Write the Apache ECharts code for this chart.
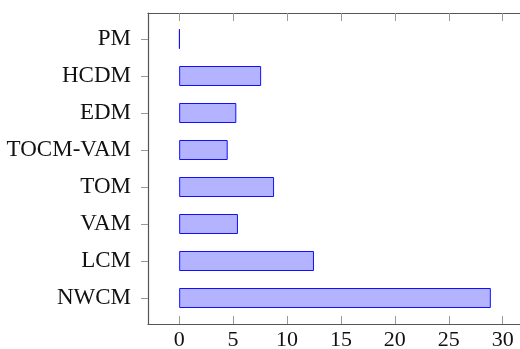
<!DOCTYPE html>
<html><head><meta charset="utf-8">
<script src="https://cdn.jsdelivr.net/npm/echarts@6/dist/echarts.min.js"></script>
<style>html,body{margin:0;padding:0;background:#fff}#c{width:520px;height:349px}</style>
</head><body><div id="c"></div>
<script>
const categories = ['PM','HCDM','EDM','TOCM-VAM','TOM','VAM','LCM','NWCM'];
const values = [0.05, 7.6, 5.3, 4.5, 8.8, 5.45, 12.5, 28.9];
const xTicks = [0, 5, 10, 15, 20, 25, 30];
const xMin = -2.89, xMax = 31.79;

const font = 'Liberation Serif';
const axisCol = '#555';
const tickCol = '#999';
const chart = echarts.init(document.getElementById('c'), null, {renderer:'canvas'});
chart.setOption({
  animation:false,
  grid:[
    {left:148, top:13, width:374, height:311, outerBoundsMode:'none', containLabel:false},
    {left:148, top:20.5, width:374, height:296, outerBoundsMode:'none', containLabel:false}
  ],
  xAxis:[
    {gridIndex:0, type:'value', position:'bottom', min:xMin, max:xMax,
     axisLine:{show:true, onZero:false, lineStyle:{color:axisCol, width:1.2}},
     axisTick:{show:true, inside:true, length:8, customValues:xTicks, lineStyle:{color:tickCol}},
     axisLabel:{customValues:xTicks, color:'#111', fontFamily:font, fontSize:22, margin:5},
     splitLine:{show:false}},
    {gridIndex:0, type:'value', position:'top', min:xMin, max:xMax,
     axisLine:{show:true, onZero:false, lineStyle:{color:axisCol, width:1.2}},
     axisTick:{show:true, inside:true, length:8, customValues:xTicks, lineStyle:{color:tickCol}},
     axisLabel:{show:false}, splitLine:{show:false}},
    {gridIndex:1, type:'value', min:xMin, max:xMax, show:false}
  ],
  yAxis:[
    {gridIndex:0, type:'value', position:'left', min:0, max:1,
     axisLine:{show:true, onZero:false, lineStyle:{color:axisCol, width:1.2}},
     axisTick:{show:false}, axisLabel:{show:false}, splitLine:{show:false}},
    {gridIndex:1, type:'category', data:categories, inverse:true, position:'left',
     axisLine:{show:false, onZero:false},
     axisTick:{show:true, alignWithLabel:true, length:7, lineStyle:{color:tickCol}},
     axisLabel:{color:'#111', fontFamily:font, fontSize:23, margin:17},
     splitLine:{show:false}}
  ],
  series:[{
    type:'bar', xAxisIndex:2, yAxisIndex:1, data:values, barWidth:20,
    itemStyle:{color:'#b3b3ff', borderColor:'#1010ff', borderWidth:1}
  }]
});
</script></body></html>
